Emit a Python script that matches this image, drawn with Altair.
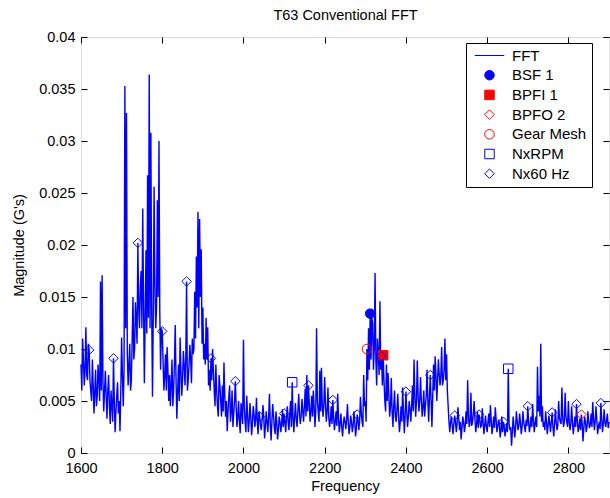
import altair as alt
import pandas as pd

FONT = "Liberation Sans"
W, H = 528, 416

# ---- FFT magnitude (units of 1e-3 G) read per 100 Hz band ----
# "on" values sit at start + 4*i Hz, "mid" values at start + 2 + 4*i Hz
fft_1600_on = [8.5, 11.0, 6.5, 12.1, 7.0, 9.9, 6.0, 9.0, 3.8, 8.0, 5.5, 7.0, 16.5,
               17.1, 4.0, 7.9, 3.3, 7.5, 2.8, 4.5, 9.1, 2.0, 5.5, 3.8, 2.1]
fft_1600_mid = [6.0, 9.0, 8.0, 7.5, 10.5, 7.0, 5.0, 6.5, 6.0, 4.5, 8.5, 5.0, 6.0,
                7.0, 6.0, 5.5, 6.0, 4.5, 6.0, 3.0, 5.0, 4.0, 6.8, 5.0, 6.0]
fft_1700_on = [11.1, 4.5, 35.3, 32.7, 6.5, 10.5, 7.0, 15.0, 10.0, 12.8, 20.2, 12.0, 17.5,
               23.5, 6.7, 19.5, 26.7, 36.4, 30.8, 5.4, 25.6, 12.0, 24.3, 30.0, 8.0]
fft_1700_mid = [7.5, 8.0, 12.0, 9.5, 8.5, 6.0, 11.0, 9.0, 14.5, 10.5, 14.0, 16.0, 12.0,
                14.5, 13.0, 11.5, 13.0, 12.0, 14.0, 13.5, 16.0, 14.0, 15.0, 13.5, 12.0]
fft_1800_on = [11.7, 6.0, 9.5, 10.2, 5.0, 4.5, 9.0, 6.0, 12.3, 3.3, 8.5, 11.1, 5.5,
               9.8, 6.5, 16.5, 7.0, 10.4, 6.7, 9.5, 15.5, 18.9, 23.2, 22.5, 19.6]
fft_1800_mid = [9.0, 7.5, 6.0, 8.0, 7.5, 6.5, 4.5, 8.5, 7.0, 6.0, 5.0, 8.0, 7.0,
                8.5, 9.0, 6.0, 8.5, 9.0, 11.0, 10.0, 11.0, 14.0, 12.0, 15.0, 10.5]
fft_1900_on = [14.0, 10.5, 13.0, 12.1, 8.0, 9.1, 10.0, 6.0, 8.5, 4.5, 7.5, 5.0, 6.5,
               8.7, 3.5, 2.1, 5.5, 3.0, 6.0, 3.8, 6.9, 2.5, 5.0, 1.9, 4.0]
fft_1900_mid = [9.0, 8.5, 9.0, 6.5, 6.0, 7.0, 8.0, 4.5, 6.0, 3.5, 6.5, 3.5, 4.0,
                5.5, 5.0, 4.0, 6.5, 4.0, 2.5, 5.0, 4.5, 3.5, 3.0, 4.8, 2.8]
fft_2000_on = [10.9, 3.0, 5.5, 2.0, 4.8, 1.7, 4.5, 2.5, 5.3, 1.8, 3.5, 2.2, 4.6,
               1.4, 4.0, 2.0, 5.7, 1.2, 4.7, 2.4, 4.0, 1.3, 3.5, 2.0, 4.2]
fft_2000_mid = [4.5, 2.0, 3.8, 3.0, 3.5, 2.8, 3.8, 3.2, 3.0, 4.0, 2.6, 3.2, 3.5,
                2.5, 3.0, 3.5, 2.8, 3.0, 3.6, 1.8, 3.0, 2.2, 3.0, 2.8, 2.5]
fft_2100_on = [3.8, 2.0, 4.5, 2.2, 5.0, 6.8, 2.0, 4.8, 2.5, 5.7, 2.8, 5.2, 3.0,
               6.2, 7.5, 6.5, 3.0, 5.5, 6.0, 2.5, 12.0, 4.0, 7.9, 8.2, 3.5]
fft_2100_mid = [3.0, 3.5, 3.0, 3.8, 2.5, 3.5, 3.5, 3.2, 4.0, 3.8, 3.6, 4.0, 4.5,
                3.5, 4.0, 4.8, 4.0, 3.5, 4.5, 4.0, 5.0, 3.0, 4.0, 4.5, 4.8]
fft_2200_on = [7.3, 3.0, 6.3, 2.5, 4.5, 5.1, 2.2, 4.0, 5.7, 2.0, 3.8, 1.6, 3.5,
               2.3, 4.7, 1.8, 3.6, 2.0, 4.0, 1.6, 3.7, 2.2, 5.4, 3.0, 7.5]
fft_2200_mid = [4.5, 4.0, 3.5, 3.2, 2.8, 3.5, 3.0, 2.6, 3.4, 2.8, 2.5, 2.8, 3.0,
                3.2, 3.0, 2.5, 3.0, 2.6, 3.0, 2.4, 3.2, 3.0, 4.0, 2.5, 4.5]
fft_2300_on = [5.0, 10.0, 12.0, 13.4, 13.0, 8.0, 17.3, 6.5, 9.5, 14.6, 9.3, 9.4, 5.0,
               8.5, 7.7, 3.5, 7.2, 2.5, 6.0, 3.0, 5.7, 2.0, 4.5, 6.3, 1.9]
fft_2300_mid = [3.0, 7.0, 8.0, 9.0, 12.5, 10.0, 9.0, 11.0, 7.5, 8.0, 6.5, 7.0, 4.0,
                5.0, 5.5, 4.5, 4.0, 4.5, 3.5, 4.2, 3.5, 3.0, 3.0, 4.0, 3.5]
fft_2400_on = [5.9, 2.5, 5.0, 3.0, 6.5, 9.0, 3.5, 8.9, 4.0, 7.3, 3.5, 6.0, 4.5,
               8.0, 3.0, 7.5, 2.5, 8.5, 9.3, 5.0, 9.0, 6.5, 10.2, 7.0, 11.0]
fft_2400_mid = [4.0, 3.5, 4.2, 4.5, 4.0, 5.5, 5.0, 5.5, 5.0, 5.0, 4.5, 3.5, 5.5,
                5.0, 5.5, 5.0, 5.5, 6.0, 7.5, 7.0, 7.5, 7.5, 6.5, 8.0, 7.0]
fft_2500_on = [9.5, 4.5, 2.0, 3.5, 1.8, 3.6, 2.0, 4.4, 2.2, 1.3, 3.5, 2.0, 4.0,
               7.0, 2.5, 5.8, 3.0, 5.0, 2.0, 4.0, 3.7, 2.5, 4.3, 1.8, 3.6]
fft_2500_mid = [6.0, 3.0, 3.0, 2.6, 2.8, 3.0, 2.8, 3.4, 3.0, 2.4, 3.0, 2.6, 2.8,
                3.5, 3.0, 2.6, 3.8, 3.2, 2.8, 2.4, 3.2, 2.6, 3.0, 2.7, 2.5]
fft_2600_on = [2.0, 3.8, 4.6, 1.8, 3.5, 4.4, 2.0, 3.2, 1.5, 3.5, 3.0, 1.6, 2.8,
               8.1, 2.2, 0.7, 3.5, 1.5, 4.0, 2.2, 3.8, 1.8, 4.0, 2.5, 3.2]
fft_2600_mid = [3.0, 2.5, 3.2, 2.6, 2.4, 3.3, 2.5, 2.8, 2.2, 2.0, 2.6, 2.2, 2.0,
                2.8, 2.5, 2.0, 2.6, 2.4, 3.0, 2.6, 2.9, 2.5, 3.0, 2.0, 2.6]
fft_2700_on = [4.5, 2.0, 3.5, 4.7, 2.0, 3.5, 8.3, 5.5, 10.5, 4.5, 3.0, 4.0, 1.8,
               3.6, 2.0, 3.9, 1.6, 4.2, 2.2, 5.0, 3.0, 6.3, 2.5, 5.8, 3.0]
fft_2700_mid = [3.0, 2.6, 2.5, 3.2, 2.8, 2.5, 4.0, 3.5, 3.0, 2.5, 2.2, 3.0, 2.6,
                2.8, 3.0, 2.5, 2.8, 3.0, 2.6, 3.4, 2.8, 3.5, 3.0, 3.5, 2.5]
fft_2800_on = [5.0, 2.2, 4.5, 1.8, 3.5, 4.7, 2.0, 3.3, 3.7, 1.1, 3.5, 2.0, 4.0,
               2.4, 3.8, 4.9, 2.2, 4.5, 1.8, 3.0, 4.8, 2.0, 4.2, 2.5, 3.8, 3.0]
fft_2800_mid = [3.0, 2.8, 3.0, 2.6, 2.5, 3.2, 2.5, 2.2, 2.8, 2.4, 3.0, 2.5, 3.0,
                2.8, 2.5, 3.3, 3.0, 3.2, 2.5, 2.3, 3.3, 2.8, 3.0, 3.1, 2.4]

fft_bands = [
    (1600, fft_1600_on, fft_1600_mid), (1700, fft_1700_on, fft_1700_mid),
    (1800, fft_1800_on, fft_1800_mid), (1900, fft_1900_on, fft_1900_mid),
    (2000, fft_2000_on, fft_2000_mid), (2100, fft_2100_on, fft_2100_mid),
    (2200, fft_2200_on, fft_2200_mid), (2300, fft_2300_on, fft_2300_mid),
    (2400, fft_2400_on, fft_2400_mid), (2500, fft_2500_on, fft_2500_mid),
    (2600, fft_2600_on, fft_2600_mid), (2700, fft_2700_on, fft_2700_mid),
    (2800, fft_2800_on, fft_2800_mid),
]

# ---- marker positions (Hz) and magnitudes (1e-3 G) ----
bsf_freq, bsf_mag = [2312], [13.4]
bpfi_freq, bpfi_mag = [2344], [9.4]
bpfo_freq, bpfo_mag = [2832], [3.7]
gear_freq, gear_mag = [2304], [10.0]
rpm_freq, rpm_mag = [2120, 2652], [6.8, 8.1]
nx60_freq = [1620, 1680, 1740, 1800, 1860, 1920, 1980, 2040, 2100, 2160, 2220,
             2280, 2340, 2400, 2460, 2520, 2580, 2640, 2700, 2760, 2820, 2880]
nx60_mag = [9.9, 9.1, 20.2, 11.7, 16.5, 9.1, 6.9, 3.5, 3.8, 6.5, 5.1,
            3.7, 9.3, 5.9, 7.5, 3.6, 3.7, 3.0, 4.5, 3.9, 4.7, 4.8]

series_names = ["FFT", "BSF 1", "BPFI 1", "BPFO 2", "Gear Mesh", "NxRPM", "Nx60 Hz"]
stroke_colors = ["#0000ff", "#0000ff", "#ff0000", "#ff0000", "#ff0000", "#0000ff", "#0000ff"]
fill_colors = ["transparent", "#0000ff", "#ff0000", "transparent", "transparent",
               "transparent", "transparent"]
shapes = ["M-3.1,0L3.1,0", "circle", "square", "diamond", "circle", "square", "diamond"]

x_ticks = [1600, 1800, 2000, 2200, 2400, 2600, 2800]
y_ticks = [0, 0.005, 0.01, 0.015, 0.02, 0.025, 0.03, 0.035, 0.04]

# ---- tables ----
freqs, mags = [], []
for start, on, mid in fft_bands:
    for i, v in enumerate(on):
        freqs.append(start + 4 * i)
        mags.append(v * 1e-3)
        if i < len(mid):
            freqs.append(start + 4 * i + 2)
            mags.append(mid[i] * 1e-3)
fft_df = pd.DataFrame({"freq": freqs, "mag": mags}).sort_values("freq")

marker_sets = [("BSF 1", bsf_freq, bsf_mag), ("BPFI 1", bpfi_freq, bpfi_mag),
               ("BPFO 2", bpfo_freq, bpfo_mag), ("Gear Mesh", gear_freq, gear_mag),
               ("NxRPM", rpm_freq, rpm_mag), ("Nx60 Hz", nx60_freq, nx60_mag)]
rows = []
for name, fs, ms in marker_sets:
    for f, m in zip(fs, ms):
        rows.append({"freq": f, "mag": m * 1e-3, "series": name})
mk_df = pd.DataFrame(rows)

xscale = alt.Scale(domain=[1600, 2900], nice=False, zero=False)
yscale = alt.Scale(domain=[0, 0.04], nice=False, zero=False)

lab = dict(labelFont=FONT, labelFontSize=14.5, labelColor="black", labelFlush=False,
           labelOverlap=False, grid=False, domain=False, ticks=False, tickSize=0,
           titleFont=FONT, titleFontSize=14.5, titleFontWeight="normal", titleColor="black")
tk = dict(labels=False, domain=False, grid=False, ticks=True, tickSize=6,
          tickColor="black", tickWidth=1, title=None)

# main layer: FFT line + labelled axes
line = alt.Chart(fft_df).mark_line(color="#0000ff", strokeWidth=1.4).encode(
    x=alt.X("freq:Q", scale=xscale,
            axis=alt.Axis(orient="bottom", values=x_ticks, format="d", labelPadding=8,
                          title="Frequency", titleY=37.5, titleBaseline="alphabetic", **lab)),
    y=alt.Y("mag:Q", scale=yscale,
            axis=alt.Axis(orient="left", values=y_ticks, format="~g", labelPadding=6,
                          title="Magnitude (G's)", titleX=-58, titleBaseline="alphabetic", **lab)),
    order="freq:Q",
)

legend = alt.Legend(title=None, orient="none", legendX=385, legendY=6,
                    fillColor="white", strokeColor="black", padding=5, cornerRadius=0,
                    labelFont=FONT, labelFontSize=15, labelColor="black",
                    symbolSize=90, symbolStrokeWidth=1, symbolOffset=11,
                    labelOffset=15, rowPadding=3.7, labelLimit=0)

points = alt.Chart(mk_df).mark_point(filled=False, size=90, strokeWidth=1, opacity=1).encode(
    x=alt.X("freq:Q", scale=xscale,
            axis=alt.Axis(orient="top", offset=-H, values=x_ticks, **tk)),
    y=alt.Y("mag:Q", scale=yscale,
            axis=alt.Axis(orient="right", offset=-W, values=y_ticks, **tk)),
    color=alt.Color("series:N", scale=alt.Scale(domain=series_names, range=stroke_colors),
                    legend=legend),
    fill=alt.Fill("series:N", scale=alt.Scale(domain=series_names, range=fill_colors),
                  legend=legend),
    shape=alt.Shape("series:N", scale=alt.Scale(domain=series_names, range=shapes),
                    legend=legend),
)

ghost = alt.Chart(mk_df).mark_point(opacity=0).encode(
    x=alt.X("freq:Q", scale=xscale,
            axis=alt.Axis(orient="bottom", offset=-H, values=x_ticks, **tk)),
    y=alt.Y("mag:Q", scale=yscale,
            axis=alt.Axis(orient="left", offset=-W, values=y_ticks, **tk)),
)

# chart title carried by a bare top axis so its position is exact
title_layer = alt.Chart(mk_df).mark_point(opacity=0).encode(
    x=alt.X("freq:Q", scale=xscale,
            axis=alt.Axis(orient="top", offset=0, labels=False, ticks=False, domain=False,
                          grid=False, title="T63 Conventional FFT", titleFont=FONT,
                          titleFontSize=14.5, titleFontWeight="normal", titleColor="black",
                          titleY=-18, titleBaseline="alphabetic")),
    y=alt.Y("mag:Q", scale=yscale, axis=None),
)

chart = alt.layer(line, points, ghost, title_layer).resolve_axis(
    x="independent", y="independent"
).properties(
    width=W, height=H,
    padding={"left": 81, "top": 37, "right": 1, "bottom": 45},
    autosize=alt.AutoSizeParams(type="none"),
).configure_view(stroke="black", strokeWidth=1).configure(background="white")

chart.save("out.html", embed_options={"renderer": "svg", "actions": False})
